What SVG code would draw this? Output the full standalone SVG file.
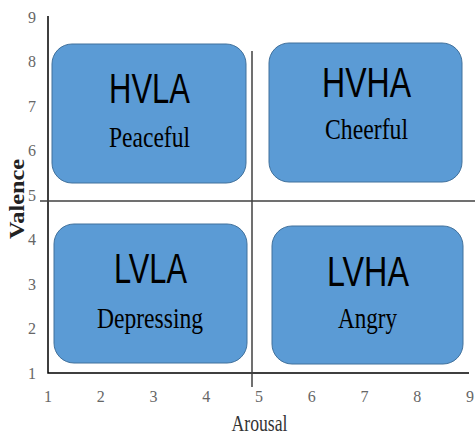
<svg xmlns="http://www.w3.org/2000/svg" width="475" height="437" viewBox="0 0 475 437">
<style>
.box{fill:#5B9BD5;stroke:#41719C;stroke-width:1}
.code{font-family:"Liberation Sans",Arial,sans-serif;font-size:43px;fill:#000;text-anchor:middle}
.emo{font-family:"Liberation Serif","Times New Roman",serif;font-size:29px;fill:#000;text-anchor:middle}
.tick{font-family:"Liberation Serif","Times New Roman",serif;font-size:16px;fill:#666;text-anchor:middle}
.axis{stroke:#000;stroke-width:1.5;fill:none}
.mid{stroke:#404040;stroke-width:1.5;fill:none}
</style>
<rect width="475" height="437" fill="#fff"/>
<g id="connectors">
<path class="axis" d="M48,16 V373 H469"/>
<path class="mid" d="M40,201 H475"/>
<path class="mid" d="M252,51 V387"/>
</g>
<g id="ticks">
<text class="tick" x="32" y="22.5">9</text>
<text class="tick" x="32" y="67">8</text>
<text class="tick" x="32" y="111.5">7</text>
<text class="tick" x="32" y="156">6</text>
<text class="tick" x="32" y="200.5">5</text>
<text class="tick" x="32" y="245">4</text>
<text class="tick" x="32" y="289.5">3</text>
<text class="tick" x="32" y="334">2</text>
<text class="tick" x="32" y="378.5">1</text>
<text class="tick" x="48" y="402">1</text>
<text class="tick" x="100.75" y="402">2</text>
<text class="tick" x="153.5" y="402">3</text>
<text class="tick" x="206.25" y="402">4</text>
<text class="tick" x="259" y="402">5</text>
<text class="tick" x="311.75" y="402">6</text>
<text class="tick" x="364.5" y="402">7</text>
<text class="tick" x="417.25" y="402">8</text>
<text class="tick" x="470" y="402">9</text>
</g>
<g id="axis-labels">
<text x="259.5" y="431" font-family="'Liberation Serif','Times New Roman',serif" font-size="24" fill="#333" text-anchor="middle" textLength="56" lengthAdjust="spacingAndGlyphs">Arousal</text>
<text transform="translate(24,199) rotate(-90)" x="0" y="0" font-family="'Liberation Serif','Times New Roman',serif" font-size="22" font-weight="bold" fill="#222" text-anchor="middle" textLength="80" lengthAdjust="spacingAndGlyphs">Valence</text>
</g>
<g id="hvla">
<rect class="box" x="52" y="44" width="194" height="139" rx="20" ry="20"/>
<text class="code" x="149.5" y="103" textLength="81" lengthAdjust="spacingAndGlyphs">HVLA</text>
<text class="emo" x="149.5" y="147" textLength="81" lengthAdjust="spacingAndGlyphs">Peaceful</text>
</g>
<g id="hvha">
<rect class="box" x="269" y="43" width="193" height="139" rx="20" ry="20"/>
<text class="code" x="366.5" y="97" textLength="89" lengthAdjust="spacingAndGlyphs">HVHA</text>
<text class="emo" x="366.5" y="139" textLength="83" lengthAdjust="spacingAndGlyphs">Cheerful</text>
</g>
<g id="lvla">
<rect class="box" x="54" y="224" width="193" height="139" rx="20" ry="20"/>
<text class="code" x="150.5" y="283" textLength="73" lengthAdjust="spacingAndGlyphs">LVLA</text>
<text class="emo" x="150" y="328" textLength="106" lengthAdjust="spacingAndGlyphs">Depressing</text>
</g>
<g id="lvha">
<rect class="box" x="272" y="226" width="191" height="138" rx="20" ry="20"/>
<text class="code" x="368" y="286" textLength="82" lengthAdjust="spacingAndGlyphs">LVHA</text>
<text class="emo" x="367.5" y="328" textLength="59" lengthAdjust="spacingAndGlyphs">Angry</text>
</g>
</svg>
